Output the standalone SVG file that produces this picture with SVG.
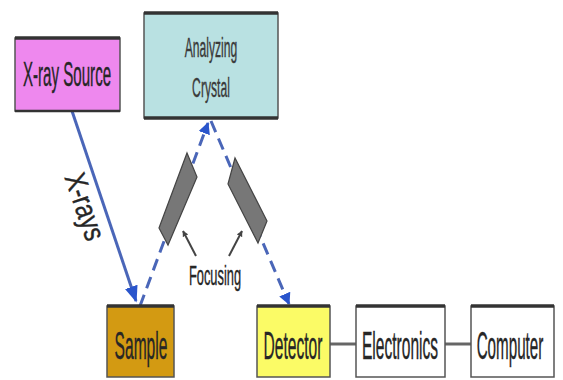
<svg xmlns="http://www.w3.org/2000/svg" width="563" height="380" viewBox="0 0 563 380">
<defs>
<style>
.box{stroke:#555;stroke-width:1.5}
.edge{stroke:#333;stroke-width:3.5}
.lbl{font-family:"Liberation Sans",Arial,sans-serif;fill:#262626;text-anchor:middle;stroke:#262626;stroke-width:0.4}
.big{font-size:38px}
.beam{stroke:#4a66b8;stroke-width:3;fill:none}
.dash{stroke-dasharray:12 7}
.wire{stroke:#666;stroke-width:3}
.prism{fill:#777;stroke:#444;stroke-width:1.2}
.ptr{stroke:#444;stroke-width:2;fill:none}
</style>
<marker id="ah" viewBox="0 0 10 10" refX="9" refY="5" markerWidth="4" markerHeight="4" orient="auto" markerUnits="strokeWidth">
<path d="M0,0 L10,5 L0,10 z" fill="#2a55cc"/>
</marker>
<marker id="ahs" viewBox="0 0 10 10" refX="9" refY="5" markerWidth="5.5" markerHeight="5.5" orient="auto" markerUnits="strokeWidth">
<path d="M0,1 L10,5 L0,9 z" fill="#2a55cc"/>
</marker>
<marker id="pa" viewBox="0 0 10 10" refX="9" refY="5" markerWidth="3" markerHeight="3" orient="auto" markerUnits="strokeWidth">
<path d="M0,0 L10,5 L0,10 z" fill="#444"/>
</marker>
</defs>
<rect width="563" height="380" fill="#fff"/>

<g id="connectors">
<line class="beam" x1="72" y1="111" x2="136" y2="301" marker-end="url(#ahs)"/>
<line class="beam dash" x1="140" y1="306" x2="208" y2="123" marker-end="url(#ah)"/>
<line class="beam dash" x1="211" y1="121" x2="289" y2="304" marker-end="url(#ah)"/>
<line class="wire" x1="330" y1="344" x2="356" y2="344"/>
<line class="wire" x1="445" y1="344" x2="471" y2="344"/>
<line class="ptr" x1="196" y1="256" x2="183" y2="231" marker-end="url(#pa)"/>
<line class="ptr" x1="229" y1="256" x2="242" y2="231" marker-end="url(#pa)"/>
</g>

<g id="prism-left"><polygon class="prism" points="187,153 197,177 168,245 159,228"/></g>
<g id="prism-right"><polygon class="prism" points="235,158 228,184 258,243 267,221"/></g>

<g id="xray-label"><text class="lbl" transform="translate(84,207) rotate(71) scale(0.8,1)" x="0" y="9" font-size="30">X-rays</text></g>
<g id="focusing-label"><text class="lbl" transform="translate(215,285) scale(0.46,1)" font-size="28">Focusing</text></g>

<g id="xray-source">
<rect class="box" x="15" y="38" width="105" height="73" fill="#ee88ee"/>
<line class="edge" x1="15" y1="38" x2="120" y2="38"/>
<line class="edge" x1="15" y1="111" x2="120" y2="111" style="stroke-width:2.5"/>
<text class="lbl" transform="translate(67,86) scale(0.42,1)" font-size="36">X-ray Source</text>
</g>

<g id="crystal">
<rect class="box" x="144" y="13" width="134" height="105" fill="#b9e1e2"/>
<line class="edge" x1="144" y1="13" x2="278" y2="13"/>
<line class="edge" x1="144" y1="118" x2="278" y2="118"/>
<text class="lbl" transform="translate(211,57) scale(0.45,1)" font-size="27" style="fill:#3a3a3a;stroke:#3a3a3a">Analyzing</text>
<text class="lbl" transform="translate(211,97) scale(0.45,1)" font-size="27" style="fill:#3a3a3a;stroke:#3a3a3a">Crystal</text>
</g>

<g id="sample">
<rect class="box" x="107" y="306" width="67" height="71" fill="#d39a12"/>
<line class="edge" x1="107" y1="306" x2="174" y2="306"/>
<text class="lbl big" transform="translate(141,359) scale(0.41,1)">Sample</text>
</g>

<g id="detector">
<rect class="box" x="257" y="306" width="73" height="71" fill="#fbfb66"/>
<line class="edge" x1="257" y1="306" x2="330" y2="306"/>
<text class="lbl big" transform="translate(293,359) scale(0.41,1)">Detector</text>
</g>

<g id="electronics">
<rect class="box" x="356" y="306" width="89" height="71" fill="#fff"/>
<line class="edge" x1="356" y1="306" x2="445" y2="306"/>
<text class="lbl big" transform="translate(400,359) scale(0.41,1)">Electronics</text>
</g>

<g id="computer">
<rect class="box" x="471" y="306" width="83" height="71" fill="#fff"/>
<line class="edge" x1="471" y1="306" x2="554" y2="306"/>
<text class="lbl big" transform="translate(510,359) scale(0.4,1)">Computer</text>
</g>
</svg>
